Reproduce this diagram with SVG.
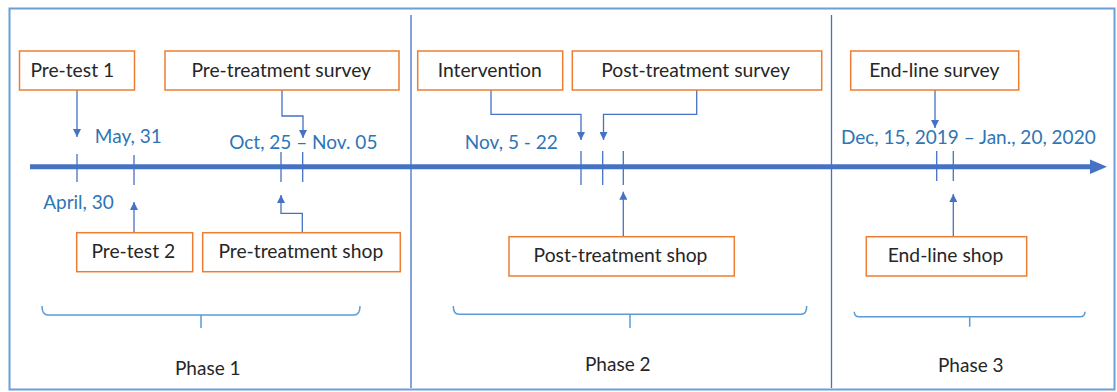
<svg xmlns="http://www.w3.org/2000/svg" width="1117" height="392" viewBox="0 0 1117 392">
<style>
.box{fill:#fff;stroke:#ED7D31;stroke-width:1.5}
.bt{font-family:Lato,"Open Sans",sans-serif;font-size:19.3px;fill:#262626;text-anchor:middle}
.dt{font-family:Lato,"Open Sans",sans-serif;font-size:19px;fill:#2E75B6;text-anchor:middle}
.ph{font-family:Lato,"Open Sans",sans-serif;font-size:19px;fill:#262626;text-anchor:middle}
.con{fill:none;stroke:#4472C4;stroke-width:1.3;marker-end:url(#ah)}
.tick{stroke:#4472C4;stroke-width:1.3}
.brace{fill:none;stroke:#5B9BD5;stroke-width:1.5}
.div{stroke:#4472C4;stroke-width:1.3}
</style>
<defs>
<marker id="ah" viewBox="0 0 10 10" refX="10" refY="5" markerWidth="9" markerHeight="8" markerUnits="userSpaceOnUse" orient="auto">
<path d="M0,0 L10,5 L0,10 z" fill="#4472C4"/>
</marker>
</defs>
<rect x="0" y="0" width="1117" height="392" fill="#fff"/>
<rect id="frame" x="9.5" y="8.5" width="1105" height="381" fill="none" stroke="#6A9FD8" stroke-width="2"/>
<g id="dividers">
<line class="div" x1="411" y1="15" x2="411" y2="388"/>
<line class="div" x1="831.5" y1="15" x2="831.5" y2="388"/>
</g>
<g id="timeline">
<line x1="30" y1="166.7" x2="1092" y2="166.7" stroke="#4472C4" stroke-width="5"/>
<polygon points="1090,159.5 1107,166.7 1090,174" fill="#4472C4"/>
<line class="tick" x1="77" y1="154" x2="77" y2="182"/>
<line class="tick" x1="134" y1="155" x2="134" y2="185"/>
<line class="tick" x1="281" y1="152" x2="281" y2="182"/>
<line class="tick" x1="302.7" y1="152" x2="302.7" y2="182"/>
<line class="tick" x1="581" y1="151" x2="581" y2="185"/>
<line class="tick" x1="602.7" y1="151" x2="602.7" y2="185"/>
<line class="tick" x1="623.3" y1="151" x2="623.3" y2="185"/>
<line class="tick" x1="936.7" y1="151" x2="936.7" y2="181"/>
<line class="tick" x1="953.3" y1="151" x2="953.3" y2="181"/>
</g>
<g id="dates">
<text class="dt" x="128.3" y="142.7">May, 31</text>
<text class="dt" x="303.3" y="149">Oct, 25 – Nov. 05</text>
<text class="dt" x="78.5" y="209.3">April, 30</text>
<text class="dt" x="511.3" y="149">Nov, 5 - 22</text>
<text class="dt" x="968.3" y="144">Dec, 15, 2019 – Jan., 20, 2020</text>
</g>
<g id="connectors">
<path class="con" d="M77,90 V137"/>
<path class="con" d="M282,90 V116 H303 V138"/>
<path class="con" d="M491,90 V114.3 H581 V140"/>
<path class="con" d="M696.7,90 V114.3 H603.5 V140"/>
<path class="con" d="M935,90 V128"/>
<path class="con" d="M134,232.7 V202"/>
<path class="con" d="M302.3,232.7 V213.3 H281 V195"/>
<path class="con" d="M623.3,236.7 V191.7"/>
<path class="con" d="M953.3,236.7 V194"/>
</g>
<g id="pre-test-1">
<rect class="box" x="19.5" y="51" width="115" height="39"/>
<text class="bt" x="72.3" y="76.7">Pre-test 1</text>
</g>
<g id="pre-treatment-survey">
<rect class="box" x="165" y="51" width="234" height="39"/>
<text class="bt" x="281.2" y="76.7">Pre-treatment survey</text>
</g>
<g id="intervention">
<rect class="box" x="417.7" y="51" width="145" height="39"/>
<text class="bt" x="489.7" y="76.7">Intervention</text>
</g>
<g id="post-treatment-survey">
<rect class="box" x="572.3" y="51" width="249.4" height="39"/>
<text class="bt" x="695.5" y="76.7">Post-treatment survey</text>
</g>
<g id="end-line-survey">
<rect class="box" x="850.7" y="51" width="168" height="39"/>
<text class="bt" x="934.3" y="76.7">End-line survey</text>
</g>
<g id="pre-test-2">
<rect class="box" x="76.7" y="232.7" width="116" height="39"/>
<text class="bt" x="133.3" y="258.3">Pre-test 2</text>
</g>
<g id="pre-treatment-shop">
<rect class="box" x="202.7" y="232.7" width="197.6" height="39"/>
<text class="bt" x="300.8" y="258.3">Pre-treatment shop</text>
</g>
<g id="post-treatment-shop">
<rect class="box" x="509" y="236.7" width="225.3" height="39.3"/>
<text class="bt" x="620.5" y="262.3">Post-treatment shop</text>
</g>
<g id="end-line-shop">
<rect class="box" x="866.3" y="236.7" width="160.4" height="39.3"/>
<text class="bt" x="945.5" y="262.3">End-line shop</text>
</g>
<g id="braces">
<path class="brace" d="M42,306 Q42,315 48,315 H354 Q360,315 360,306 M201,315 V328"/>
<path class="brace" d="M453.3,306 Q453.3,314.3 459,314.3 H801 Q806.7,314.3 806.7,306 M630,314.3 V328"/>
<path class="brace" d="M854.3,311.7 Q854.3,316.7 859,316.7 H1080 Q1085,316.7 1085,311.7 M969.7,316.7 V326.7"/>
</g>
<g id="phases">
<text class="ph" x="207.8" y="375">Phase 1</text>
<text class="ph" x="617.8" y="371">Phase 2</text>
<text class="ph" x="970.8" y="372">Phase 3</text>
</g>
</svg>
